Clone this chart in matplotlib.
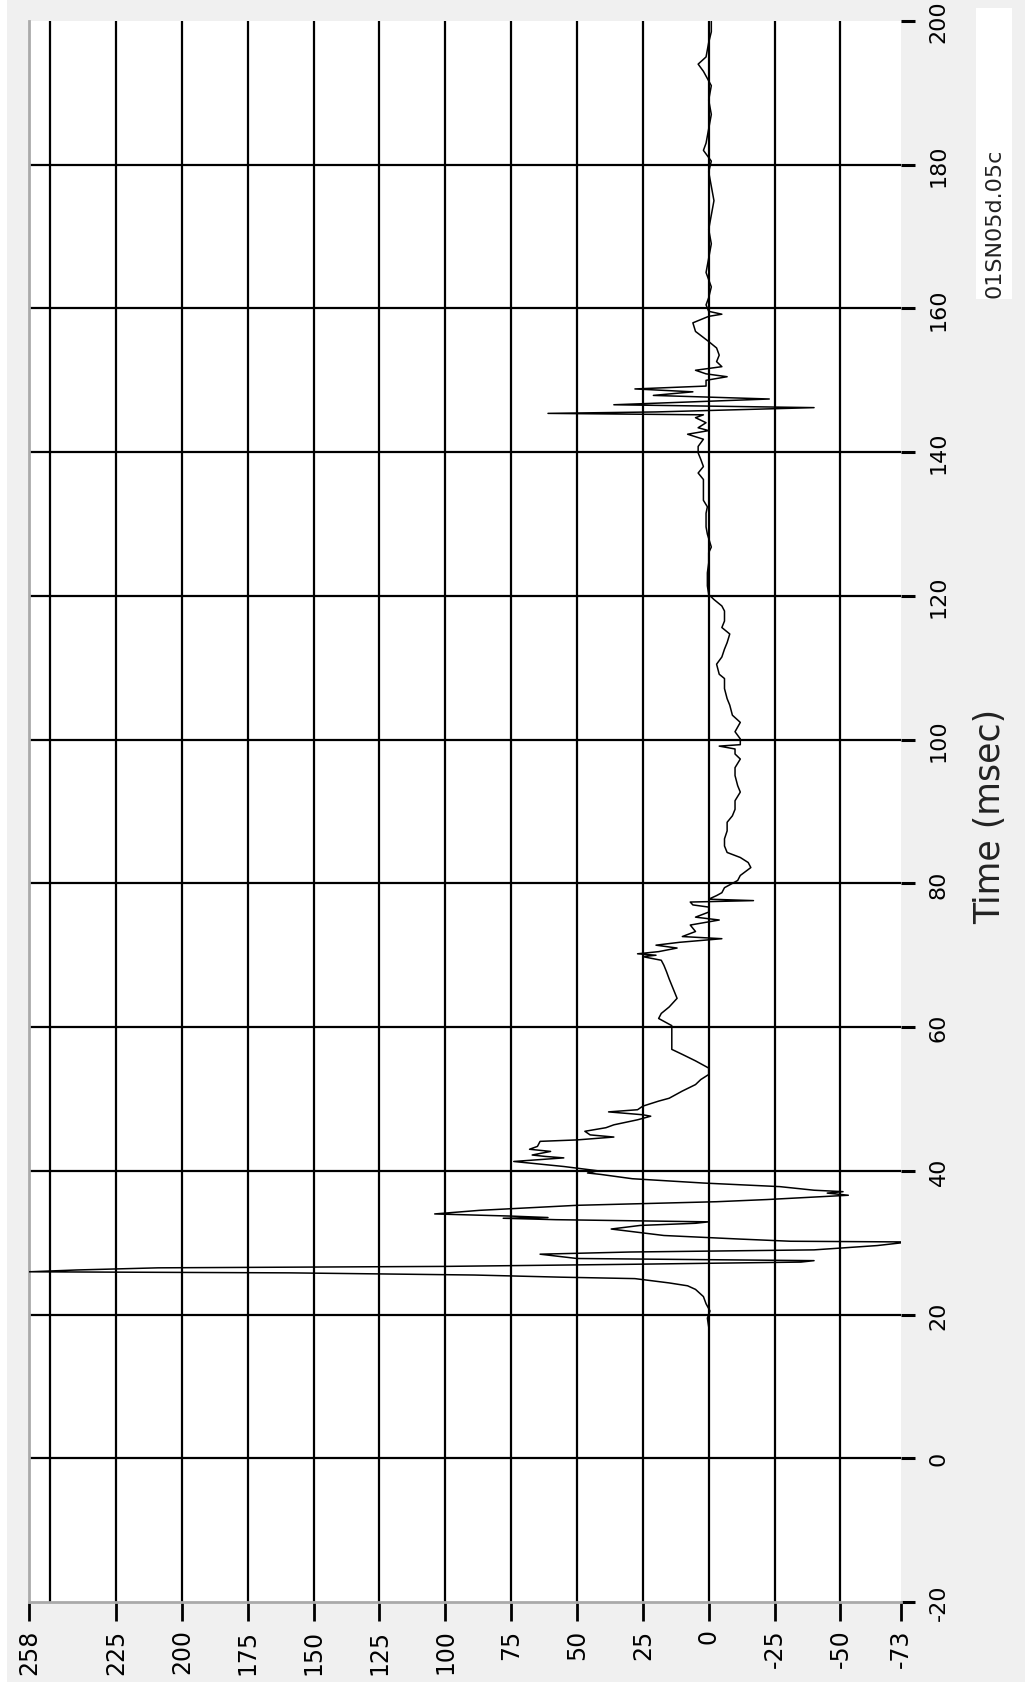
import numpy as np
import matplotlib
matplotlib.use("Agg")
import matplotlib.pyplot as plt
from matplotlib.patches import Rectangle

# trace (time in msec, amplitude)
time_ms = [18.3, 19.5, 20.5, 21.5, 22.5, 23.5, 24.0, 24.4, 25.0, 25.2, 25.5, 25.8, 25.95, 26.2, 26.5,
           26.7, 27.0, 27.3, 27.5, 27.8, 28.4, 28.7, 29.0, 29.6, 30.1, 30.2, 30.5, 31.0, 31.9, 32.4,
           32.7, 32.9, 33.2, 33.4, 33.5, 33.7, 34.0, 34.5, 35.2, 35.7, 36.0, 36.6, 36.9, 37.1, 37.3,
           37.8, 38.3, 38.9, 39.5, 39.7, 40.0, 40.6, 41.3, 41.8, 42.0, 42.2, 42.7, 43.0, 43.4, 44.1,
           44.3, 44.7, 45.0, 45.5, 46.0, 46.4, 47.1, 47.6, 47.8, 48.2, 48.5, 49.0, 49.7, 50.1, 51.1,
           52.0, 52.7, 53.4, 54.3, 55.3, 56.2, 56.9, 58.0, 59.3, 60.2, 61.2, 61.9, 62.8, 64.0, 64.9,
           65.8, 66.7, 67.7, 68.6, 69.3, 69.8, 70.0, 70.2, 70.5, 71.0, 71.4, 71.8, 72.3, 72.6, 73.3,
           74.2, 74.9, 75.3, 76.0, 76.7, 77.0, 77.4, 77.6, 77.8, 78.3, 78.7, 79.4, 80.4, 81.1, 82.2,
           82.9, 83.6, 84.3, 85.2, 86.2, 87.3, 88.5, 89.4, 90.3, 91.5, 92.7, 93.6, 95.0, 96.1, 97.3,
           98.0, 98.7, 99.1, 99.3, 99.6, 100.1, 101.1, 102.4, 103.4, 104.8, 105.7, 107.1, 108.5, 109.1,
           110.5, 111.5, 112.6, 113.5, 114.7, 115.6, 116.5, 117.9, 118.6, 119.5, 120.2, 121.4, 123.2,
           124.6, 126.0, 126.8, 128.6, 129.6, 131.5, 132.4, 133.3, 135.0, 136.2, 137.1, 138.0, 139.0,
           139.9, 140.8, 141.8, 142.5, 143.0, 143.4, 144.1, 144.8, 145.2, 145.4, 145.6, 145.8, 146.2,
           146.6, 147.4, 147.9, 148.4, 148.8, 149.2, 150.0, 150.5, 150.9, 151.4, 151.9, 152.6, 153.5,
           154.5, 155.4, 156.8, 158.0, 158.9, 159.2, 159.6, 160.5, 161.5, 163, 165, 167, 169, 171,
           173, 175, 177, 179, 180.5, 182, 183, 185, 187, 189, 191, 193, 194, 195, 197, 198.5, 200]
amplitude = [0, 0.5, -0.5, 1, 2, 5, 8, 15, 28, 56, 89, 159, 258, 240, 209,
             100, 28, -35, -40, 50, 64, 30, -40, -64, -76, -31, -12, 17, 37, 26,
             5, 0, 58, 78, 61, 75, 104, 87, 50, -3, -22, -53, -45, -51, -40,
             -27, 2, 29, 41, 46, 42, 55, 74, 55, 62, 67, 60, 68, 65, 64,
             50, 36, 45, 47, 39, 36, 27, 22, 25, 38, 27, 25, 19, 15, 10,
             5, 3, 0, 0, 5, 10, 14, 14, 14, 14, 19, 18, 15, 12, 13,
             14, 15, 16, 17, 18, 25, 20, 27, 19, 12, 20, 11, -5, 10, 5,
             7, -4, 5, 0, 0, 6, 7, -17, 0, -3, -5, -6, -11, -12, -16,
             -15, -12, -7, -6, -6, -7, -7, -9, -10, -10, -12, -11, -10, -10, -12,
             -10, -10, -4, -12, -12, -12, -10, -12, -9, -8, -7, -6, -6, -4,
             -3, -5, -6, -7, -8, -5, -6, -6, -5, -2, 0, 0.5, 0.5,
             0, 0, -1, 0.5, 1, 1, 0.5, 2, 2, 2, 4, 2, 3,
             4, 4, 2, 8, 0, 4, 1, 5, 2, 61, 20, 0, -40,
             36, -23, 21, 6, 28, 1, 1, -7, 1, 5, -5, -3, -4,
             -3, 0, 5, 6, 0, -5, 0, 1, 0, -1, 1, 0, -1, 0,
             -1, -2, -1, 0, -1, 2, 1, 0, -1, 0, -1, 2, 4, 1, 0, -1, -1]

value_ticks = [258, 225, 200, 175, 150, 125, 100, 75, 50, 25, 0, -25, -50, -73]
value_grid = [250, 225, 200, 175, 150, 125, 100, 75, 50, 25, 0, -25, -50]
time_ticks = [-20, 0, 20, 40, 60, 80, 100, 120, 140, 160, 180, 200]
time_grid = [0, 20, 40, 60, 80, 100, 120, 140, 160, 180]

W, H = 1025, 1690
fig = plt.figure(figsize=(W / 100, H / 100), dpi=100, facecolor="white")
fig.patches.append(Rectangle((7 / W, 7 / H), 1 - 7 / W, 1 - 7 / H, transform=fig.transFigure,
                             facecolor="#f0f0f0", edgecolor="none", zorder=-10))

ax = fig.add_axes([29 / W, 87 / H, 872 / W, 1581 / H])
ax.set_facecolor("white")

# grid lines
for v in value_grid:
    ax.axvline(v, color="black", lw=1.6, zorder=1)
for t in time_grid:
    ax.axhline(t, color="black", lw=1.6, zorder=1)

ax.plot(amplitude, time_ms, color="black", lw=1.1, zorder=3)

ax.set_xlim(258, -73)
ax.set_ylim(-20, 200)

ax.set_xticks(value_ticks)
ax.set_xticklabels([str(v) for v in value_ticks])
ax.set_yticks(time_ticks)
ax.set_yticklabels([str(t) for t in time_ticks])
ax.yaxis.tick_right()

ax.tick_params(axis="x", length=14, width=2, pad=5, labelsize=17,
               labelrotation=90, colors="black")
ax.tick_params(axis="y", length=10, width=2.2, pad=10, labelsize=16,
               labelrotation=90, colors="black")
for lab in ax.get_yticklabels():
    lab.set_va("center")

for s in ["top", "right"]:
    ax.spines[s].set_visible(False)
for s in ["left", "bottom"]:
    ax.spines[s].set_color("#aaaaaa")
    ax.spines[s].set_linewidth(2)

fig.text(990 / W, 1 - 816 / H, "Time (msec)", rotation=90, ha="center", va="center",
         fontsize=25, color="#222222")

fig.patches.append(Rectangle((976 / W, 1 - 300 / H), 36 / W, 291 / H, transform=fig.transFigure,
                             facecolor="white", edgecolor="none"))
fig.text(995 / W, 1 - 298 / H, "01SN05d.05c", rotation=90, ha="center", va="bottom",
         fontsize=16, color="#222222")

fig.savefig("out.png", dpi=100, facecolor=fig.get_facecolor())
